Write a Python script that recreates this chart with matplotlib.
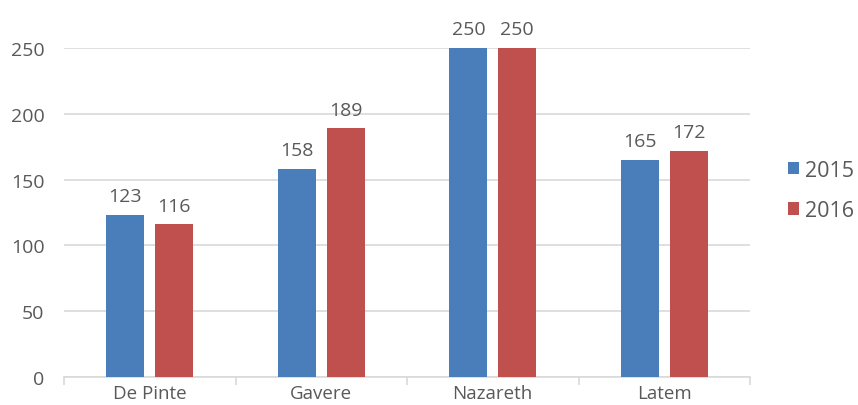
import matplotlib.pyplot as plt
import numpy as np

plt.rcParams['font.family'] = ['Open Sans', 'DejaVu Sans']

towns = ['De Pinte', 'Gavere', 'Nazareth', 'Latem']
v2015 = [123, 158, 250, 165]
v2016 = [116, 189, 250, 172]
years = ['2015', '2016']

fig = plt.figure(figsize=(8.58, 4.06), dpi=100)
ax = fig.add_axes([64/858, 1 - 378/406, 686/858, 329/406])

x = np.arange(len(towns))
w = 0.222
off = 0.142
b1 = ax.bar(x - off, v2015, w, color='#4A7EBB', label=years[0], zorder=3)
b2 = ax.bar(x + off, v2016, w, color='#C0504D', label=years[1], zorder=3)

txt = '#595959'
for bars in (b1, b2):
    for b in bars:
        ax.annotate(str(int(b.get_height())), (b.get_x() + b.get_width()/2, b.get_height()),
                    xytext=(0, 7), textcoords='offset points', ha='center', va='bottom',
                    fontsize=14, color=txt, annotation_clip=False)

ax.set_xlim(-0.5, 3.5)
ax.set_ylim(0, 250)
ax.set_yticks(range(0, 251, 50))
ax.yaxis.grid(True, color='#d9d9d9', linewidth=1.2, zorder=0)
ax.set_xticks(x)
ax.set_xticklabels(towns)
ax.set_xticks(np.arange(-0.5, 4, 1), minor=True)
ax.tick_params(axis='x', which='major', length=0, pad=5, labelsize=13.5, labelcolor=txt)
ax.tick_params(axis='x', which='minor', length=6, color='#d9d9d9', width=1.2)
ax.tick_params(axis='y', length=0, pad=14, labelsize=14, labelcolor=txt)
for s in ['top', 'right', 'left']:
    ax.spines[s].set_visible(False)
ax.spines['bottom'].set_color('#d9d9d9')
ax.spines['bottom'].set_linewidth(1.2)

leg = ax.legend(loc='center left', bbox_to_anchor=((788 - 64)/686, (378 - 191.5)/329),
                frameon=False, borderpad=0, borderaxespad=0,
                fontsize=15.5, handlelength=0.51, handleheight=0.51, handletextpad=0.3,
                labelspacing=0.9, labelcolor=txt)

fig.savefig('out.png', dpi=100)
